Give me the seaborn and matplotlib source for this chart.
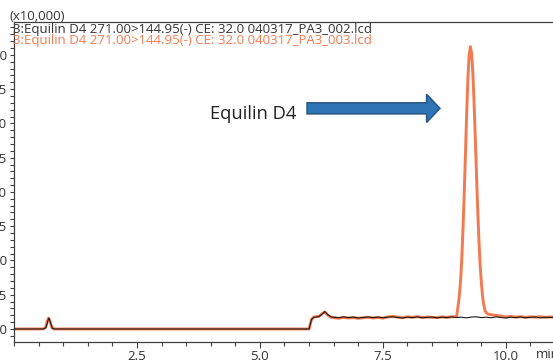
import numpy as np
import pandas as pd
import matplotlib
matplotlib.use("Agg")
import matplotlib.pyplot as plt
from matplotlib.patches import FancyArrow
from matplotlib.ticker import MultipleLocator, FormatStrFormatter
import seaborn as sns

# retention time (min) and intensity (x10,000) for run 002 (black)
t_002 = [0.0, 0.60, 0.65, 0.69, 0.71, 0.74, 0.78, 0.82, 6.00, 6.05, 6.10, 6.20, 6.27,
         6.32, 6.38, 6.45, 6.5, 6.6, 6.7, 6.8, 6.9, 7.0, 7.1, 7.2, 7.3, 7.4, 7.5, 7.6,
         7.7, 7.8, 7.9, 8.0, 8.1, 8.2, 8.3, 8.4, 8.5, 8.6, 8.7, 8.8, 8.9, 9.0, 9.1,
         9.2, 9.3, 9.4, 9.5, 9.6, 9.7, 9.8, 9.9, 10.0, 10.1, 10.2, 10.3, 10.4, 10.5,
         10.6, 10.7, 10.8, 10.9, 11.0]
y_002 = [0.0, 0.0, 0.01, 0.06, 0.08, 0.05, 0.005, 0.0, 0.0, 0.07, 0.085, 0.09, 0.11,
         0.127, 0.105, 0.088, 0.086, 0.082, 0.088, 0.083, 0.087, 0.080, 0.084, 0.088,
         0.083, 0.087, 0.082, 0.086, 0.089, 0.084, 0.080, 0.086, 0.083, 0.088, 0.082,
         0.085, 0.087, 0.081, 0.086, 0.083, 0.088, 0.084, 0.086, 0.081, 0.087, 0.089,
         0.083, 0.086, 0.082, 0.088, 0.084, 0.080, 0.086, 0.083, 0.087, 0.082, 0.085,
         0.088, 0.081, 0.086, 0.084, 0.085]

# run 003 (orange) with the Equilin D4 peak
t_003 = [0.0, 0.59, 0.64, 0.68, 0.70, 0.73, 0.77, 0.82, 6.00, 6.05, 6.10, 6.20, 6.27,
         6.32, 6.38, 6.45, 6.5, 6.6, 6.7, 6.8, 6.9, 7.0, 7.1, 7.2, 7.3, 7.4, 7.5, 7.6,
         7.7, 7.8, 7.9, 8.0, 8.1, 8.2, 8.3, 8.4, 8.5, 8.6, 8.7, 8.8, 8.9, 9.0,
         9.03, 9.055, 9.08, 9.105, 9.13, 9.155, 9.18, 9.205, 9.23, 9.255, 9.28,
         9.305, 9.33, 9.355, 9.38, 9.405, 9.43, 9.455, 9.48, 9.505, 9.53, 9.555,
         9.58, 9.63, 9.68, 9.78, 9.9, 10.0, 10.1, 10.2, 10.3, 10.4, 10.5, 10.6,
         10.7, 10.8, 10.9, 11.0]
y_003 = [0.0, 0.0, 0.01, 0.06, 0.08, 0.06, 0.01, 0.0, 0.0, 0.07, 0.088, 0.092, 0.112,
         0.125, 0.10, 0.085, 0.083, 0.078, 0.084, 0.080, 0.083, 0.078, 0.082, 0.085,
         0.080, 0.084, 0.079, 0.088, 0.091, 0.087, 0.082, 0.089, 0.085, 0.090, 0.084,
         0.087, 0.085, 0.083, 0.088, 0.085, 0.089, 0.090,
         0.17, 0.24, 0.35, 0.51, 0.73, 0.99, 1.28, 1.58, 1.83, 2.00, 2.06,
         2.01, 1.87, 1.65, 1.39, 1.12, 0.86, 0.64, 0.46, 0.33, 0.23, 0.17,
         0.13, 0.11, 0.105, 0.10, 0.095, 0.088, 0.092, 0.087, 0.090, 0.085, 0.089,
         0.086, 0.090, 0.084, 0.088, 0.086]

label_002 = "3:Equilin D4 271.00>144.95(-) CE: 32.0 040317_PA3_002.lcd"
label_003 = "3:Equilin D4 271.00>144.95(-) CE: 32.0 040317_PA3_003.lcd"

black = "#1a1a1a"
orange = "#F37A50"

sns.set_style("ticks")
plt.rcParams['font.family'] = ['Open Sans', 'DejaVu Sans']

fig = plt.figure(figsize=(5.53, 3.63), dpi=100)
ax = fig.add_axes([14 / 553, 21 / 363, 1 - 14 / 553, 320 / 363])

df3 = pd.DataFrame({"t": t_003, "y": y_003})
df2 = pd.DataFrame({"t": t_002, "y": y_002})
sns.lineplot(data=df3, x="t", y="y", ax=ax, color=orange, linewidth=2.1, zorder=2)
sns.lineplot(data=df2, x="t", y="y", ax=ax, color=black, linewidth=0.8, zorder=3)

ax.set_xlim(0, 10.96)
ax.set_ylim(-0.095, 2.24)
ax.set_xlabel("")
ax.set_ylabel("")

ax.xaxis.set_major_locator(MultipleLocator(2.5))
ax.xaxis.set_minor_locator(MultipleLocator(0.5))
ax.xaxis.set_major_formatter(FormatStrFormatter("%.1f"))
ax.yaxis.set_major_locator(MultipleLocator(0.25))
ax.yaxis.set_minor_locator(MultipleLocator(0.05))
ax.yaxis.set_major_formatter(FormatStrFormatter("%.2f"))
ax.set_xticks([2.5, 5.0, 7.5, 10.0])

ax.tick_params(axis="both", which="major", labelsize=9.5, colors="#404040",
               labelcolor="#333333", width=0.8)
ax.tick_params(axis="x", which="major", length=4, pad=2)
ax.tick_params(axis="x", which="minor", length=3, width=0.8, colors="#404040")
ax.tick_params(axis="y", which="major", length=3, pad=2)
ax.tick_params(axis="y", which="minor", length=3, width=0.8, colors="#404040")

for s in ["left", "bottom", "top"]:
    ax.spines[s].set_visible(True)
    ax.spines[s].set_color("#404040")
    ax.spines[s].set_linewidth(0.9)
ax.spines["right"].set_visible(False)

# annotation arrow pointing at the peak
ax.add_patch(FancyArrow(5.96, 1.61, 2.70, 0, width=0.08, head_width=0.205,
                        head_length=0.27, length_includes_head=True,
                        facecolor="#2E75B6", edgecolor="#2B5C88", linewidth=1.2,
                        zorder=4))
ax.text(5.75, 1.535, "Equilin D4", fontsize=13.2, color="#222222",
        ha="right", va="baseline")

fig.text(10 / 553, 1 - 20.5 / 363, "(x10,000)", fontsize=9.5, color="#333333",
         va="baseline", ha="left")
fig.text(13 / 553, 1 - 33.5 / 363, label_002, fontsize=9.5, color="#333333",
         va="baseline", ha="left")
fig.text(13 / 553, 1 - 44 / 363, label_003, fontsize=9.5, color=orange,
         va="baseline", ha="left")
fig.text(536 / 553, 1 - 355 / 363, "min", fontsize=9.5, color="#333333",
         va="center", ha="left")

fig.savefig("out.png", dpi=100)
